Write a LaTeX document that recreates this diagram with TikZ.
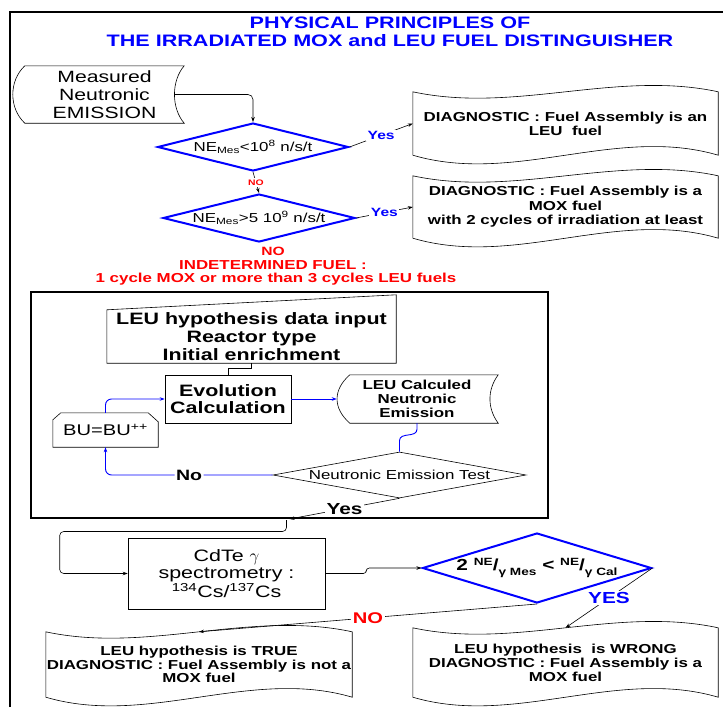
\documentclass[tikz,border=0pt]{standalone}
\usepackage{fontspec}
\setmainfont{Liberation Sans}[FakeStretch=1.3]
\usetikzlibrary{arrows.meta,calc,shapes.geometric}
\definecolor{bl}{RGB}{0,0,255}
\definecolor{rd}{RGB}{255,0,0}
\newcommand{\fsz}[2]{\fontsize{#1}{#2}\selectfont}
\newcommand{\tapeshape}[1]{\draw[line width=0.6pt] (#1.north west) .. controls +(102,22) and +(-102,-22) .. (#1.north east) -- (#1.south east) .. controls +(-102,-30) and +(102,30) .. (#1.south west) -- cycle;}
\begin{document}
\begin{tikzpicture}[x=1pt,y=-1pt,
  arr/.style={-{Stealth[length=5pt,width=3.5pt]}, line width=0.6pt},
  barr/.style={arr, draw=bl, line width=0.9pt},
  txt/.style={inner sep=0pt, align=center},
  lab/.style={fill=white, inner sep=1.5pt},
  dia/.style={diamond, draw=bl, line width=2pt, inner sep=0pt}]
\useasboundingbox (0,0) rectangle (723,707);
\fill[white] (0,0) rectangle (723,707);
% outer frame
\draw[line width=2pt] (10,707) -- (10,12) -- (723,12);
% title
\node[txt, text=bl, font=\bfseries\fsz{16.6}{18}] (t1) at (390,23) {PHYSICAL PRINCIPLES OF};
\node[txt, text=bl, font=\bfseries\fsz{16.6}{18}] (t2) at (390,41) {THE IRRADIATED MOX and LEU FUEL DISTINGUISHER};
% measured
\node[txt, font=\fsz{16.3}{18}, minimum width=159, minimum height=57] (meas) at (104.5,94.5) {Measured\\Neutronic\\EMISSION};
\draw[line width=0.6pt] (meas.north west) -- (meas.north east) .. controls +(-13,15) and +(-13,-15) .. (meas.south east) -- (meas.south west) .. controls +(-16,-15) and +(-16,15) .. (meas.north west) -- cycle;
% diamonds
\node[dia, minimum width=191, minimum height=48] (d1) at (253,147) {\makebox[0pt]{\fsz{13}{13}NE\textsubscript{Mes}<10\textsuperscript{8} n/s/t}};
\node[dia, minimum width=192, minimum height=48] (d2) at (259,218) {\makebox[0pt]{\fsz{13}{13}NE\textsubscript{Mes}>5 10\textsuperscript{9} n/s/t}};
\draw[arr, rounded corners=5pt] ($(meas.east)+(-10,0)$) -| (d1.north);
% diagnostic boxes
\node[txt, font=\bfseries\fsz{13}{14}, minimum width=305, minimum height=63] (dg1) at (565.5,123.5) {DIAGNOSTIC : Fuel Assembly is an\\LEU~~fuel};
\tapeshape{dg1}
\node[txt, font=\bfseries\fsz{13}{14.5}, minimum width=305, minimum height=62] (dg2) at (565.5,207) {DIAGNOSTIC : Fuel Assembly is a\\MOX fuel\\with 2 cycles of irradiation at least};
\tapeshape{dg2}
\draw[arr] (d1.east) -- node[lab, text=bl, font=\bfseries\fsz{12}{12}] {Yes} (dg1.west);
\draw[arr] (d2.east) -- node[lab, text=bl, font=\bfseries\fsz{12}{12}] {Yes} (dg2.west);
\draw[arr] (d1.south) -- node[lab, text=rd, font=\bfseries\fsz{8}{8}] {NO} (d2.north);
% indetermined
\node[txt, text=rd, font=\bfseries\fsz{12}{12}] (no2) at (273,251) {NO};
\node[txt, text=rd, font=\bfseries\fsz{13}{13}] (ind1) at (273,265) {INDETERMINED FUEL :};
\node[txt, text=rd, font=\bfseries\fsz{13}{13}] (ind2) at (276,279) {1 cycle MOX or more than 3 cycles LEU fuels};
% inner frame
\node[draw, line width=2pt, minimum width=517, minimum height=226, inner sep=0pt] (frame) at (289.5,405) {};
% LEU hypothesis
\node[txt, font=\bfseries\fsz{16.5}{18}, minimum width=289, minimum height=53] (hyp) at (251.5,336.5) {LEU hypothesis data input\\Reactor type\\Initial enrichment};
\draw[line width=0.6pt] (hyp.south west) -- (hyp.south east) -- ($(hyp.north east)+(0,-15)$) -- (hyp.north west) -- cycle;
% evolution
\node[draw, line width=0.6pt, font=\bfseries\fsz{16.5}{17}, minimum width=126, minimum height=48, inner sep=0pt, align=center] (evo) at (228,399) {Evolution\\Calculation};
\draw[line width=0.6pt] (hyp.south) -- ++(0,5) -| (evo.north);
% calculated emission
\node[txt, font=\bfseries\fsz{13}{14}, minimum width=160, minimum height=48] (calc) at (417,399) {LEU Calculed\\Neutronic\\Emission};
\draw[line width=0.6pt] ($(calc.north west)+(13,0)$) -- ($(calc.north east)+(1,0)$) .. controls +(-11,15) and +(-11,-15) .. ($(calc.south east)+(1,0)$) -- ($(calc.south west)+(13,0)$) .. controls +(-17,-15) and +(-17,15) .. ($(calc.north west)+(13,0)$) -- cycle;
\draw[barr] (evo.east) -- (calc.west);
% test
\node[diamond, draw, line width=0.6pt, minimum width=253, minimum height=46, inner sep=0pt] (test) at (399.5,475) {\makebox[0pt]{\fsz{13}{13}Neutronic Emission Test}};
\draw[draw=bl, line width=0.9pt] (calc.south) -- ++(0,6) .. controls +(0,9) and +(0,-9) .. ($(test.north)+(0,-11)$) -- (test.north);
% BU
\node[txt, font=\fsz{15.5}{16}, minimum width=105, minimum height=34] (bu) at (105.5,430) {BU=BU\textsuperscript{++}};
\draw[line width=0.6pt] (bu.south west) -- ($(bu.north west)+(0,7)$) -- ($(bu.north west)+(8,0)$) -- ($(bu.north east)+(-10,0)$) -- ($(bu.north east)+(0,9)$) -- (bu.south east) -- cycle;
\draw[barr, rounded corners=6pt] (test.west) -| node[pos=0.25, lab, text=black, font=\bfseries\fsz{15}{15}] {No} (bu.south);
\draw[barr, rounded corners=6pt] (bu.north) |- (evo.west);
\draw[arr] (test.south) -- node[lab, font=\bfseries\fsz{16}{16}] {Yes} (frame.south);
% CdTe
\node[draw, line width=0.6pt, font=\fsz{16.5}{17.5}, minimum width=197, minimum height=71, inner sep=0pt, align=center] (cdte) at (226.5,573.5) {CdTe $\gamma$\\spectrometry :\\\textsuperscript{134}Cs/\textsuperscript{137}Cs};
\draw[arr, rounded corners=4pt] ($(frame.south)+(-3,1)$) |- ($(cdte.west)+(-68,-42)$) |- (cdte.west);
% final diamond
\node[dia, minimum width=229, minimum height=70] (d3) at (537,568) {\makebox[0pt]{\bfseries\fsz{16}{16}2 \raisebox{5pt}{\fsz{10.5}{10.5}NE}/\raisebox{-5pt}{\fsz{10.5}{10.5}γ Mes} < \raisebox{5pt}{\fsz{10.5}{10.5}NE}/\raisebox{-5pt}{\fsz{10.5}{10.5}γ Cal}}};
\draw[arr, rounded corners=3pt] (cdte.east) -- ++(41,0) |- (d3.west);
% result boxes
\node[txt, font=\bfseries\fsz{13}{13.5}, minimum width=306, minimum height=65] (tbox) at (199,664.5) {LEU hypothesis is TRUE\\DIAGNOSTIC : Fuel Assembly is not a\\MOX fuel};
\tapeshape{tbox}
\node[txt, font=\bfseries\fsz{13}{14}, minimum width=305, minimum height=69] (wbox) at (565.5,662.5) {LEU hypothesis~~is WRONG\\DIAGNOSTIC : Fuel Assembly is a\\MOX fuel};
\tapeshape{wbox}
\draw[arr] (d3.east) -- node[lab, text=bl, font=\bfseries\fsz{16}{16}] {YES} (wbox.north);
\draw[arr] (d3.south) -- node[lab, text=rd, font=\bfseries\fsz{15.5}{16}] {NO} (tbox.north);
\end{tikzpicture}
\end{document}
